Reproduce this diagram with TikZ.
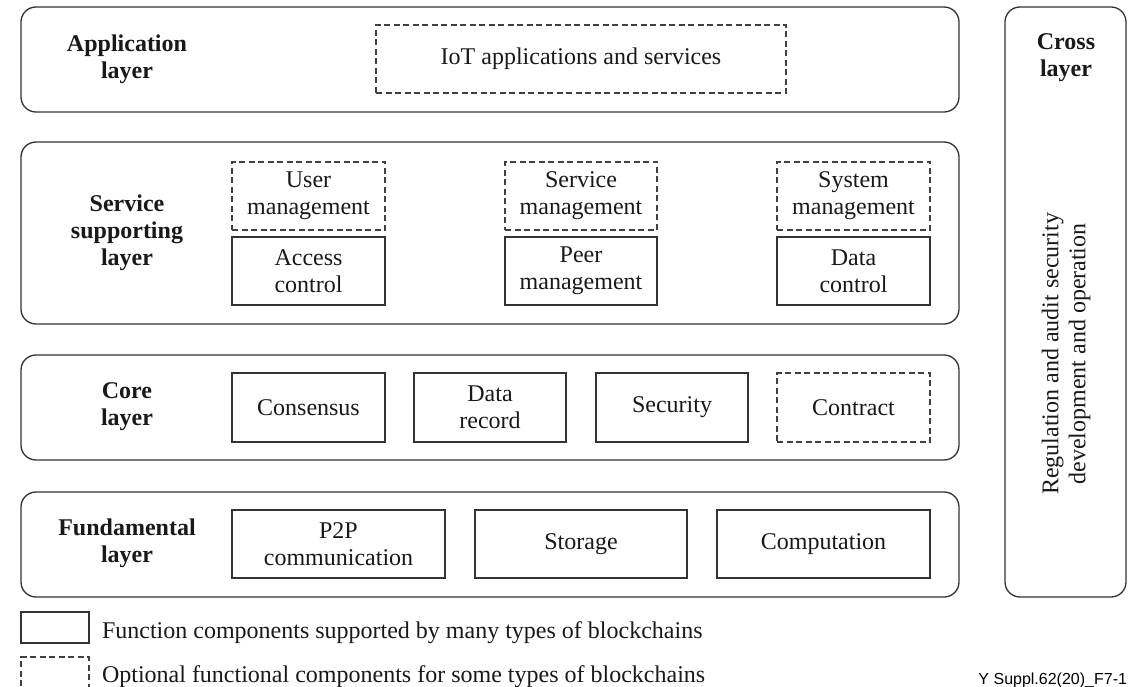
\documentclass[tikz,border=0pt]{standalone}
\usepackage{fontspec}
\setmainfont{Liberation Serif}
\newfontfamily\refsans{Liberation Sans}
\begin{document}
\begin{tikzpicture}[x=1pt,y=-1pt,
  every node/.style={inner sep=0pt, outer sep=0pt},
  txt/.style={font=\fontsize{24}{27}\selectfont, align=center, text=black!90},
  lyr/.style={draw=black!80, line width=1.3pt, rounded corners=15pt},
  comp/.style={txt, draw=black!80, line width=1.2pt},
  optcomp/.style={txt, draw=black!75, line width=1.2pt, dash pattern=on 6pt off 3.5pt},
  lbl/.style={txt, font=\fontsize{24}{27}\selectfont\bfseries}
]
\useasboundingbox (0,0) rectangle (1130,687);
\fill[white] (0,0) rectangle (1130,687);
% layers
\node[lyr, minimum width=938, minimum height=105] (app) at (490,59.5) {};
\node[lyr, minimum width=938, minimum height=182] (ssl) at (490,233) {};
\node[lyr, minimum width=938, minimum height=105] (core) at (490,407.5) {};
\node[lyr, minimum width=938, minimum height=105] (fund) at (490,544.5) {};
\node[lyr, minimum width=121, minimum height=590] (cross) at (1065.5,302) {};
% layer labels
\node[lbl] (appl) at (127,59) {Application\\layer};
\node[lbl] (ssll) at (127,233) {Service\\supporting\\layer};
\node[lbl] (corel) at (127,407) {Core\\layer};
\node[lbl] (fundl) at (127,543) {Fundamental\\layer};
\node[lbl] (crossl) at (1066,58) {Cross\\layer};
\node[txt, rotate=90] (reg) at (1066,354) {Regulation and audit security\\development and operation};
% application
\node[optcomp, minimum width=410, minimum height=68] (iot) at (581,59) {IoT applications and services};
% service supporting
\node[optcomp, minimum width=153, minimum height=68] (um) at (308.5,196) {User\\management};
\node[comp, minimum width=153, minimum height=68] (ac) at (308.5,271) {Access\\control};
\node[optcomp, minimum width=152, minimum height=68] (sm) at (581,196) {Service\\management};
\node[comp, minimum width=152, minimum height=68] (pm) at (581,271) {Peer\\management};
\node[optcomp, minimum width=153, minimum height=68] (sym) at (853.5,196) {System\\management};
\node[comp, minimum width=153, minimum height=68] (dc) at (853.5,271) {Data\\control};
% core
\node[comp, minimum width=153, minimum height=69] (cons) at (308.5,407.5) {Consensus};
\node[comp, minimum width=152, minimum height=69] (dr) at (490,407.5) {Data\\record};
\node[comp, minimum width=152, minimum height=69] (sec) at (672,407.5) {Security};
\node[optcomp, minimum width=153, minimum height=69] (con) at (853.5,407.5) {Contract};
% fundamental
\node[comp, minimum width=213, minimum height=68] (p2p) at (338.5,544) {P2P\\communication};
\node[comp, minimum width=212, minimum height=68] (sto) at (581,544) {Storage};
\node[comp, minimum width=213, minimum height=68] (cmp) at (823.5,544) {Computation};
% legend
\node[comp, minimum width=68, minimum height=31] (legs) at (55,627.5) {};
\node[optcomp, minimum width=68, minimum height=31] (legd) at (55,672.5) {};
\node[txt, anchor=base west] (legst) at (102,638) {Function components supported by many types of blockchains};
\node[txt, anchor=base west] (legdt) at (102,682) {Optional functional components for some types of blockchains};
\node[anchor=base east, font=\refsans\fontsize{16}{18}\selectfont] (ref) at (1127,684) {Y Suppl.62(20)\_F7-1};
\end{tikzpicture}
\end{document}
